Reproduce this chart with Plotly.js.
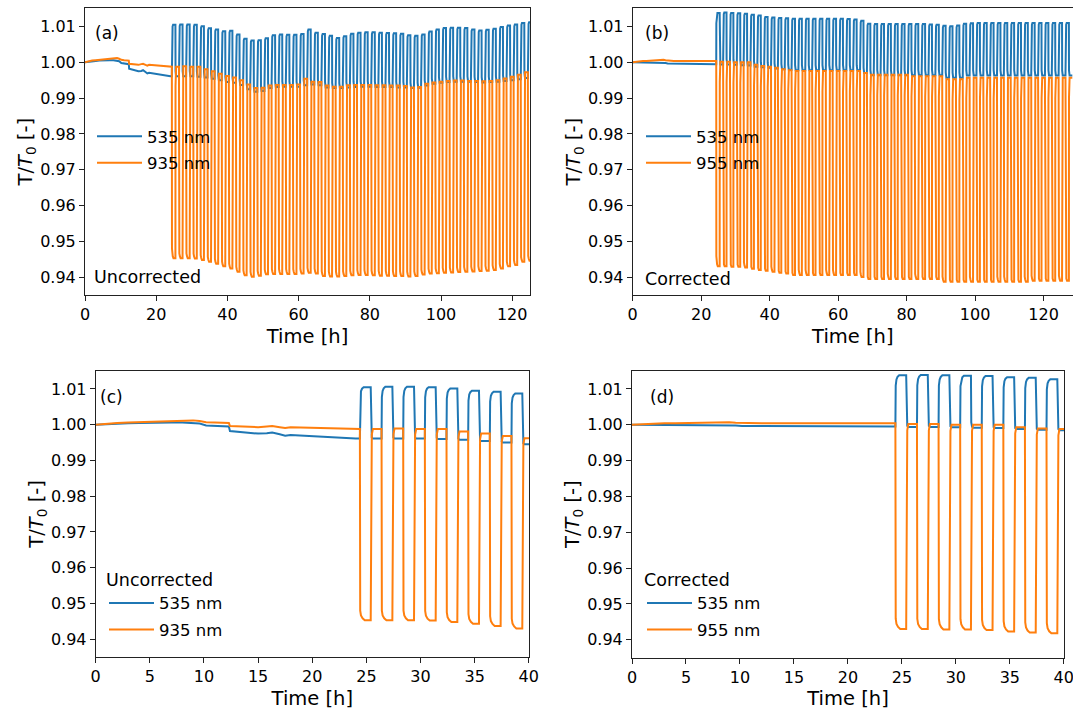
<!DOCTYPE html>
<html>
<head>
<meta charset="utf-8">
<script src="https://cdn.plot.ly/plotly-3.0.1.min.js"></script>
<style>html,body{margin:0;padding:0;background:#fff;}#chart{width:1073px;height:710px;}</style>
</head>
<body>
<div id="chart"></div>
<script>
// ---------------- data ----------------
// time (h) of the drift segment before cycling starts
const preTime = [0, 1, 2, 3, 4, 5, 6, 7, 8, 9, 9.6, 10.2, 11, 12, 12.3, 12.4, 13, 14, 15, 15.8, 16.3, 17, 17.5, 18, 19, 20, 21, 22, 23, 24, 24.4];
const preBlueU = [1.0000, 1.0002, 1.0003, 1.0004, 1.0005, 1.0006, 1.0006, 1.0006, 1.0006, 1.0005, 1.0003, 0.9998, 0.9997, 0.9996, 0.9995, 0.9982, 0.9980, 0.9978, 0.9975, 0.9976, 0.9978, 0.9973, 0.9969, 0.9971, 0.9969, 0.9969, 0.9967, 0.9964, 0.9962, 0.9961, 0.9961];
const preOrangeU = [1.0000, 1.0003, 1.0005, 1.0006, 1.0007, 1.0008, 1.0009, 1.0011, 1.0012, 1.0012, 1.0010, 1.0007, 1.0006, 1.0005, 1.0005, 0.9996, 0.9995, 0.9994, 0.9993, 0.9995, 0.9996, 0.9993, 0.9991, 0.9993, 0.9992, 0.9991, 0.9992, 0.9990, 0.9989, 0.9988, 0.9988];
const preBlueC = [1.0000, 1.0000, 1.0000, 0.9999, 0.9999, 0.9999, 0.9999, 0.9998, 0.9998, 0.9998, 0.9998, 0.9997, 0.9997, 0.9997, 0.9997, 0.9997, 0.9997, 0.9996, 0.9996, 0.9996, 0.9996, 0.9996, 0.9996, 0.9996, 0.9996, 0.9995, 0.9995, 0.9995, 0.9995, 0.9995, 0.9995];
const preOrangeC = [1.0000, 1.0002, 1.0003, 1.0004, 1.0004, 1.0005, 1.0005, 1.0006, 1.0006, 1.0007, 1.0006, 1.0005, 1.0005, 1.0004, 1.0004, 1.0004, 1.0004, 1.0004, 1.0004, 1.0004, 1.0004, 1.0004, 1.0005, 1.0005, 1.0005, 1.0005, 1.0006, 1.0005, 1.0005, 1.0004, 1.0004];

// start time (h) of each light cycle (1 h on, 1 h off)
const cycleStart = [24.4, 26.4, 28.4, 30.4, 32.4, 34.4, 36.4, 38.4, 40.4, 42.4, 44.4, 46.4, 48.4, 50.4, 52.4, 54.4, 56.4, 58.4, 60.4, 62.4, 64.4, 66.4, 68.4, 70.4, 72.4, 74.4, 76.4, 78.4, 80.4, 82.4, 84.4, 86.4, 88.4, 90.4, 92.4, 94.4, 96.4, 98.4, 100.4, 102.4, 104.4, 106.4, 108.4, 110.4, 112.4, 114.4, 116.4, 118.4, 120.4, 122.4, 124.4, 126.4];

// Uncorrected: 535 nm (high during "on", base during "off"), 935 nm (low during "on", high during "off")
const blueHighU = [1.0105, 1.0106, 1.0106, 1.0105, 1.0101, 1.0095, 1.0092, 1.0087, 1.0088, 1.0078, 1.0066, 1.0061, 1.0062, 1.0067, 1.0076, 1.0078, 1.0077, 1.0077, 1.0079, 1.0092, 1.0083, 1.0079, 1.0074, 1.0068, 1.0073, 1.0080, 1.0083, 1.0084, 1.0084, 1.0083, 1.0082, 1.0081, 1.0080, 1.0076, 1.0074, 1.0078, 1.0086, 1.0092, 1.0096, 1.0097, 1.0097, 1.0096, 1.0092, 1.0089, 1.0091, 1.0094, 1.0099, 1.0103, 1.0106, 1.0110, 1.0112, 1.0112];
const blueBaseU = [0.9961, 0.9961, 0.9961, 0.9960, 0.9958, 0.9954, 0.9950, 0.9945, 0.9943, 0.9937, 0.9925, 0.9918, 0.9920, 0.9928, 0.9931, 0.9932, 0.9932, 0.9932, 0.9936, 0.9938, 0.9936, 0.9930, 0.9928, 0.9928, 0.9930, 0.9931, 0.9932, 0.9932, 0.9931, 0.9931, 0.9931, 0.9930, 0.9930, 0.9928, 0.9929, 0.9935, 0.9940, 0.9943, 0.9945, 0.9946, 0.9946, 0.9946, 0.9945, 0.9944, 0.9945, 0.9946, 0.9948, 0.9950, 0.9953, 0.9956, 0.9958, 0.9958];
const orangeHighU = [0.9988, 0.9989, 0.9988, 0.9988, 0.9981, 0.9975, 0.9968, 0.9962, 0.9958, 0.9950, 0.9938, 0.9928, 0.9929, 0.9935, 0.9937, 0.9937, 0.9937, 0.9938, 0.9954, 0.9946, 0.9945, 0.9935, 0.9932, 0.9932, 0.9936, 0.9937, 0.9937, 0.9937, 0.9936, 0.9936, 0.9935, 0.9935, 0.9934, 0.9930, 0.9931, 0.9940, 0.9944, 0.9946, 0.9948, 0.9949, 0.9949, 0.9948, 0.9948, 0.9947, 0.9948, 0.9950, 0.9955, 0.9960, 0.9965, 0.9972, 0.9977, 0.9977];
const orangeLowU = [0.9453, 0.9453, 0.9453, 0.9452, 0.9448, 0.9443, 0.9437, 0.9430, 0.9424, 0.9415, 0.9405, 0.9401, 0.9404, 0.9408, 0.9409, 0.9409, 0.9409, 0.9409, 0.9410, 0.9412, 0.9410, 0.9403, 0.9402, 0.9402, 0.9403, 0.9405, 0.9406, 0.9406, 0.9405, 0.9404, 0.9404, 0.9403, 0.9403, 0.9402, 0.9403, 0.9407, 0.9410, 0.9411, 0.9412, 0.9413, 0.9414, 0.9415, 0.9416, 0.9417, 0.9418, 0.9420, 0.9424, 0.9430, 0.9434, 0.9443, 0.9446, 0.9446];

// Corrected: 535 nm and 955 nm
const blueHighC = [1.0138, 1.0139, 1.0138, 1.0137, 1.0136, 1.0133, 1.0131, 1.0127, 1.0125, 1.0124, 1.0123, 1.0122, 1.0122, 1.0122, 1.0122, 1.0122, 1.0122, 1.0122, 1.0122, 1.0121, 1.0120, 1.0116, 1.0108, 1.0107, 1.0107, 1.0107, 1.0107, 1.0107, 1.0107, 1.0107, 1.0107, 1.0106, 1.0105, 1.0102, 1.0101, 1.0103, 1.0108, 1.0109, 1.0110, 1.0110, 1.0110, 1.0110, 1.0110, 1.0110, 1.0110, 1.0110, 1.0110, 1.0110, 1.0110, 1.0110, 1.0110, 1.0110];
const blueBaseC = [0.9994, 0.9994, 0.9993, 0.9992, 0.9991, 0.9988, 0.9986, 0.9985, 0.9983, 0.9981, 0.9979, 0.9978, 0.9978, 0.9978, 0.9978, 0.9978, 0.9978, 0.9978, 0.9978, 0.9978, 0.9978, 0.9970, 0.9964, 0.9964, 0.9964, 0.9964, 0.9964, 0.9964, 0.9964, 0.9964, 0.9964, 0.9964, 0.9964, 0.9957, 0.9957, 0.9957, 0.9963, 0.9963, 0.9963, 0.9963, 0.9963, 0.9963, 0.9963, 0.9963, 0.9963, 0.9963, 0.9963, 0.9963, 0.9963, 0.9963, 0.9963, 0.9963];
const orangeHighC = [1.0002, 1.0002, 1.0000, 1.0000, 1.0000, 0.9993, 0.9990, 0.9988, 0.9985, 0.9981, 0.9978, 0.9976, 0.9976, 0.9976, 0.9976, 0.9976, 0.9976, 0.9976, 0.9976, 0.9976, 0.9976, 0.9970, 0.9965, 0.9965, 0.9965, 0.9965, 0.9965, 0.9965, 0.9961, 0.9961, 0.9961, 0.9961, 0.9961, 0.9953, 0.9953, 0.9953, 0.9957, 0.9957, 0.9957, 0.9957, 0.9957, 0.9957, 0.9957, 0.9957, 0.9957, 0.9957, 0.9957, 0.9957, 0.9957, 0.9957, 0.9957, 0.9957];
const orangeLowC = [0.9430, 0.9430, 0.9429, 0.9429, 0.9427, 0.9423, 0.9420, 0.9418, 0.9415, 0.9412, 0.9410, 0.9406, 0.9406, 0.9406, 0.9406, 0.9406, 0.9406, 0.9406, 0.9406, 0.9406, 0.9406, 0.9400, 0.9395, 0.9395, 0.9395, 0.9395, 0.9395, 0.9395, 0.9395, 0.9395, 0.9395, 0.9395, 0.9395, 0.9387, 0.9387, 0.9387, 0.9387, 0.9387, 0.9387, 0.9387, 0.9387, 0.9387, 0.9387, 0.9387, 0.9387, 0.9387, 0.9390, 0.9390, 0.9390, 0.9390, 0.9390, 0.9390];

const seriesNames = ['535 nm', '935 nm', '955 nm'];
const panelLabels = ['(a)', '(b)', '(c)', '(d)'];
const caseLabels = ['Uncorrected', 'Corrected'];
const yTicks = [0.94, 0.95, 0.96, 0.97, 0.98, 0.99, 1.00, 1.01];
const xTicksLong = [0, 20, 40, 60, 80, 100, 120];
const xTicksShort = [0, 5, 10, 15, 20, 25, 30, 35, 40];

// ---------------- drawing ----------------
// transition shapes (time offset in h, fraction of the step)
const riseShape = [[0, 0], [0.03, 0.8], [0.1, 0.92], [0.2, 0.97], [0.35, 1]];
const fallShape = [[0, 0], [0.03, 0.9], [0.1, 0.98], [0.2, 1]];
const dropShape = [[0, 0], [0.03, 0.95], [0.1, 0.975], [0.25, 0.99], [0.45, 1]];
const recoverShape = [[0, 0], [0.03, 0.9], [0.1, 0.97], [0.2, 1]];

function build(preT, preV, starts, levA, levB, shA, shB) {
  const x = preT.slice(), y = preV.slice();
  let cur = preV[preV.length - 1];
  starts.forEach((t0, k) => {
    const a = levA[k], b = levB[k];
    shA.forEach(([dt, f]) => { x.push(t0 + dt); y.push(cur + (a - cur) * f); });
    x.push(t0 + 1); y.push(a);
    shB.forEach(([dt, f]) => { x.push(t0 + 1 + dt); y.push(a + (b - a) * f); });
    cur = b;
  });
  x.push(starts[starts.length - 1] + 2); y.push(cur);
  return {x, y};
}

const bU = build(preTime, preBlueU, cycleStart, blueHighU, blueBaseU, riseShape, fallShape);
const oU = build(preTime, preOrangeU, cycleStart, orangeLowU, orangeHighU, dropShape, recoverShape);
const bC = build(preTime, preBlueC, cycleStart, blueHighC, blueBaseC, riseShape, fallShape);
const oC = build(preTime, preOrangeC, cycleStart, orangeLowC, orangeHighC, dropShape, recoverShape);

const BLUE = '#1f77b4', ORANGE = '#ff7f0e';
const FONT = 'DejaVu Sans';
function tr(d, name, color, xa, ya, leg, grp) {
  return {x: d.x, y: d.y, type: 'scatter', mode: 'lines', name: name,
    line: {color: color, width: 2}, xaxis: xa, yaxis: ya, legend: leg, legendgroup: grp,
    hoverinfo: 'x+y'};
}
const traces = [
  tr(bU, seriesNames[0], BLUE, 'x', 'y', 'legend', 'a1'),
  tr(oU, seriesNames[1], ORANGE, 'x', 'y', 'legend', 'a2'),
  tr(bC, seriesNames[0], BLUE, 'x2', 'y2', 'legend2', 'b1'),
  tr(oC, seriesNames[2], ORANGE, 'x2', 'y2', 'legend2', 'b2'),
  tr(bU, seriesNames[0], BLUE, 'x3', 'y3', 'legend3', 'c1'),
  tr(oU, seriesNames[1], ORANGE, 'x3', 'y3', 'legend3', 'c2'),
  tr(bC, seriesNames[0], BLUE, 'x4', 'y4', 'legend4', 'd1'),
  tr(oC, seriesNames[2], ORANGE, 'x4', 'y4', 'legend4', 'd2')
];

const W = 1073, H = 710;
const px = v => v / W, py = v => 1 - v / H;
function xax(dom, range, ticks, anchor) {
  return {domain: dom, range: range, anchor: anchor, tickvals: ticks, ticktext: ticks.map(String),
    showline: true, mirror: true, linecolor: '#222', linewidth: 1, ticks: 'outside', ticklen: 5,
    tickcolor: '#222', tickfont: {family: FONT, size: 16, color: '#000'}, showgrid: false, zeroline: false,
    ticklabeloverflow: 'allow',
    title: {text: 'Time [h]', font: {family: FONT, size: 19.5, color: '#000'}, standoff: 6}};
}
function yax(dom, anchor, mirror) {
  return {domain: dom, range: [0.935, 1.0151], anchor: anchor, tickvals: yTicks, ticktext: yTicks.map(v => v.toFixed(2)),
    showline: true, mirror: mirror, linecolor: '#222', linewidth: 1, ticks: 'outside', ticklen: 5,
    tickcolor: '#222', tickfont: {family: FONT, size: 16, color: '#000'}, showgrid: false, zeroline: false,
    title: {text: 'T/<i>T</i><sub>0</sub> [-]', font: {family: FONT, size: 19.5, color: '#000'}, standoff: 2}};
}
function leg(xp, ytop, title) {
  const l = {x: px(xp), y: py(ytop), xanchor: 'left', yanchor: 'top', bgcolor: 'rgba(0,0,0,0)',
    borderwidth: 0, font: {family: FONT, size: 16.5, color: '#000'}, itemwidth: 45,
    traceorder: 'grouped', tracegroupgap: 2};
  if (title) l.title = {text: title, font: {family: FONT, size: 17.5, color: '#000'}, side: 'top'};
  return l;
}
function ann(text, xp, yc, size) {
  return {text: text, x: px(xp), y: py(yc), xref: 'paper', yref: 'paper', xanchor: 'left', yanchor: 'middle',
    showarrow: false, font: {family: FONT, size: size, color: '#000'}};
}

const layout = {
  width: W, height: H, margin: {l: 0, r: 0, t: 0, b: 0},
  paper_bgcolor: '#fff', plot_bgcolor: '#fff', showlegend: true,
  font: {family: FONT},
  xaxis: xax([px(85), px(530)], [0, 125], xTicksLong, 'y'),
  yaxis: yax([py(295), py(8.3)], 'x', true),
  xaxis2: xax([px(632.7), 1], [0, 128.6], xTicksLong, 'y2'),
  yaxis2: yax([py(295), py(8.3)], 'x2', false),
  xaxis3: xax([px(95.7), px(529)], [0, 40.02], xTicksShort, 'y3'),
  yaxis3: yax([py(657), py(370.7)], 'x3', true),
  xaxis4: xax([px(632), px(1064)], [0, 40.02], xTicksShort, 'y4'),
  yaxis4: yax([py(657.7), py(370.7)], 'x4', true),
  legend: leg(92, 119),
  legend2: leg(641, 119),
  legend3: leg(104, 563, caseLabels[0]),
  legend4: leg(642, 563, caseLabels[1]),
  annotations: [
    ann(panelLabels[0], 93, 33, 17), ann(panelLabels[1], 643, 33, 17),
    ann(panelLabels[2], 98, 397, 17), ann(panelLabels[3], 648, 397, 17),
    ann(caseLabels[0], 92, 277, 17.5), ann(caseLabels[1], 643, 279, 17.5)
  ]
};

Plotly.newPlot('chart', traces, layout, {displayModeBar: false, responsive: false});
</script>
</body>
</html>
